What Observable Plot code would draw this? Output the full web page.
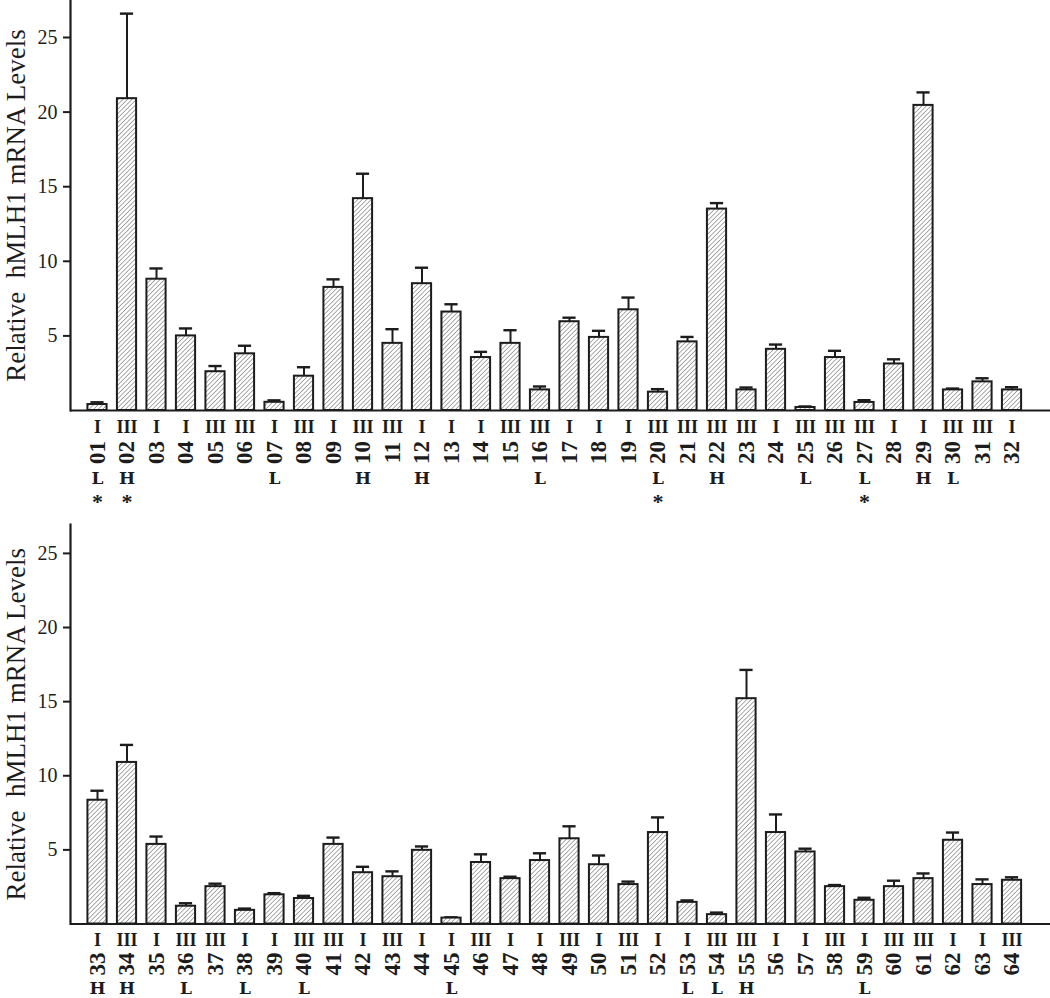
<!DOCTYPE html>
<html><head><meta charset="utf-8">
<script src="https://cdn.jsdelivr.net/npm/d3@7"></script>
<script src="https://cdn.jsdelivr.net/npm/@observablehq/plot@0.6"></script>
<style>
body{margin:0;background:#fff;}
#chart svg{display:block;}
#chart svg text{white-space:pre;}
</style></head><body><div id="chart"></div>
<script>
const sampleIds = ["01","02","03","04","05","06","07","08","09","10","11","12","13","14","15","16",
  "17","18","19","20","21","22","23","24","25","26","27","28","29","30","31","32",
  "33","34","35","36","37","38","39","40","41","42","43","44","45","46","47","48",
  "49","50","51","52","53","54","55","56","57","58","59","60","61","62","63","64"];
const stages = ["I","III","I","I","III","III","I","III","I","III","III","I","I","I","III","III",
  "I","I","I","III","III","III","III","I","III","III","III","I","I","III","III","I",
  "I","III","I","III","III","I","I","III","III","I","III","I","I","III","I","I",
  "III","I","III","I","I","III","III","I","I","III","I","III","III","I","I","III"];
const levels = [0.4,20.9,8.8,5.0,2.6,3.8,0.55,2.3,8.25,14.2,4.5,8.5,6.6,3.55,4.5,1.38,
  5.95,4.9,6.75,1.23,4.6,13.5,1.38,4.1,0.2,3.55,0.54,3.12,20.45,1.38,1.92,1.38,
  8.35,10.9,5.37,1.2,2.52,0.92,1.97,1.72,5.37,3.46,3.19,4.97,0.4,4.15,3.06,4.28,
  5.75,4.0,2.66,6.17,1.46,0.63,15.2,6.17,4.86,2.52,1.6,2.52,3.06,5.65,2.66,2.95];
const errors = [0.15,5.7,0.72,0.5,0.38,0.54,0.13,0.6,0.54,1.67,0.95,1.07,0.52,0.38,0.88,0.23,
  0.27,0.44,0.82,0.2,0.33,0.4,0.16,0.32,0.07,0.45,0.15,0.31,0.87,0.09,0.24,0.18,
  0.64,1.18,0.53,0.2,0.2,0.12,0.11,0.18,0.46,0.4,0.36,0.26,0.05,0.55,0.13,0.49,
  0.84,0.62,0.2,1.02,0.13,0.14,1.94,1.22,0.22,0.11,0.17,0.4,0.35,0.52,0.35,0.2];
const markers = ["L","H","","","","","L","","","H","","H","","","","L",
  "","","","L","","H","","","L","","L","","H","L","","",
  "H","H","","L","","L","","L","","","","","L","","","",
  "","","","","L","L","H","","","","L","","","","",""];
const starred = ["01","02","20","27"];
const yTicks = [5,10,15,20,25];
const yTitle = "Relative  hMLH1 mRNA Levels";

const rows = sampleIds.map((id, i) => ({
  id, stage: stages[i], level: levels[i], err: errors[i],
  marker: markers[i], star: starred.includes(id) ? "*" : ""
}));

const ink = "#1c1c1c";
const serif = "'Liberation Serif', 'Times New Roman', serif";

function panel(data, o) {
  const svg = Plot.plot({
    width: 1050,
    height: o.height,
    marginLeft: 70,
    marginRight: 0,
    marginTop: o.marginTop,
    marginBottom: o.marginBottom,
    style: {fontFamily: serif, fontSize: "20px", color: ink, background: "#fff"},
    x: {domain: data.map(d => d.id), paddingInner: 0.35, paddingOuter: 0.785, align: 0.376, round: false, axis: null},
    y: {domain: [0, o.yMax], axis: null},
    marks: [
      Plot.ruleX(data, {x: "id", y1: "level", y2: d => d.level + d.err, stroke: ink, strokeWidth: 2}),
      Plot.tickY(data, {x: "id", y: d => d.level + d.err, stroke: ink, strokeWidth: 2.4, insetLeft: 3, insetRight: 3}),
      Plot.barY(data, {x: "id", y: "level", fill: `url(#${o.hatchId})`, stroke: ink, strokeWidth: 2}),
      Plot.ruleY([0], {stroke: ink, strokeWidth: 2}),
      Plot.frame({anchor: "left", stroke: ink, strokeWidth: 2.2}),
      Plot.axisY({ticks: yTicks, tickSize: 7, tickPadding: 6, fontSize: 20, label: null, strokeWidth: 2, stroke: ink, fill: ink}),
      Plot.text([yTitle], {frameAnchor: "left", dx: -54, rotate: -90, fontSize: 27, fill: ink, textAnchor: "middle", lineAnchor: "middle"}),
      Plot.text(data, {x: "id", frameAnchor: "bottom", text: "stage", dy: o.dyStage, fontSize: 18, fontWeight: "bold", fill: ink, lineAnchor: "middle"}),
      Plot.text(data, {x: "id", frameAnchor: "bottom", text: "id", dy: o.dyId, rotate: -90, fontSize: 23, fontWeight: "bold", fill: ink, lineAnchor: "middle", textAnchor: "middle"}),
      Plot.text(data, {x: "id", frameAnchor: "bottom", text: "marker", dy: o.dyMarker, fontSize: 17, fontWeight: "bold", fontFamily: "'DejaVu Serif', serif", fill: ink, lineAnchor: "middle"}),
      Plot.text(data, {x: "id", frameAnchor: "bottom", text: "star", dy: o.dyStar, fontSize: 22, fontWeight: "bold", fill: ink, lineAnchor: "middle"})
    ]
  });
  const defs = d3.select(svg).insert("defs", ":first-child");
  const p = defs.append("pattern").attr("id", o.hatchId).attr("patternUnits", "userSpaceOnUse")
    .attr("width", 3.2).attr("height", 3.2).attr("patternTransform", "rotate(45)");
  p.append("rect").attr("width", 3.2).attr("height", 3.2).attr("fill", "#fff");
  p.append("line").attr("x1", 0).attr("y1", 0).attr("x2", 0).attr("y2", 3.2).attr("stroke", "#666").attr("stroke-width", 1.1);
  return svg;
}

const chart = document.getElementById("chart");
chart.append(panel(rows.slice(0, 32), {height: 518, marginTop: 0, marginBottom: 108, yMax: 27.48, hatchId: "hatchA", dyStage: 17, dyId: 42, dyMarker: 68, dyStar: 91}));
chart.append(panel(rows.slice(32), {height: 480, marginTop: 6, marginBottom: 74.5, yMax: 26.95, hatchId: "hatchB", dyStage: 16, dyId: 40, dyMarker: 65, dyStar: 88}));
</script></body></html>
